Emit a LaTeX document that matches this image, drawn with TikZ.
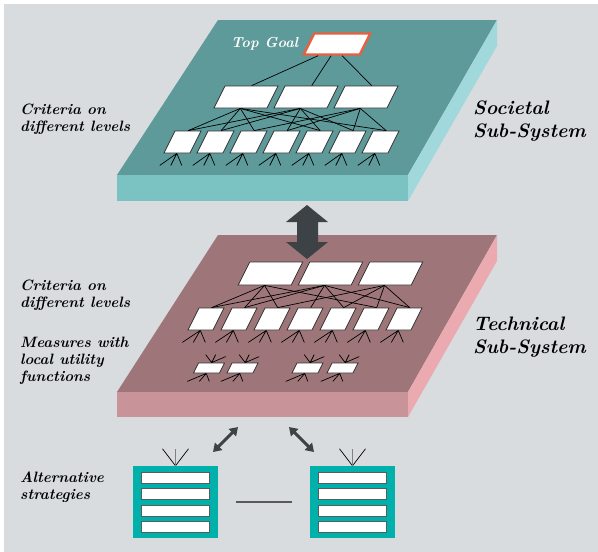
\documentclass[tikz,border=0pt]{standalone}
\usepackage{tikz}
\usetikzlibrary{positioning,calc,arrows.meta}
\newcommand*{\lab}{\fontsize{15}{16.8}\selectfont\bfseries\itshape}
\newcommand*{\sys}{\fontsize{19.5}{23}\selectfont\bfseries\itshape}
\definecolor{bg}{RGB}{216,220,223}
\definecolor{tealtop}{RGB}{94,154,154}
\definecolor{tealfront}{RGB}{123,195,195}
\definecolor{tealside}{RGB}{160,216,220}
\definecolor{mauvetop}{RGB}{158,118,122}
\definecolor{mauvefront}{RGB}{200,148,154}
\definecolor{mauveside}{RGB}{234,170,176}
\definecolor{strat}{RGB}{0,176,170}
\definecolor{goalred}{RGB}{232,96,64}
\definecolor{arrowgray}{RGB}{60,66,70}
\definecolor{edge}{RGB}{50,50,50}

\begin{document}
\begin{tikzpicture}[x=1pt,y=-1pt,
  box/.style={draw=edge,fill=white,line width=0.8pt,inner sep=0pt,xslant=0.5,transform shape},
  wide/.style={box,minimum width=53pt,minimum height=22pt},
  small/.style={box,minimum width=26pt,minimum height=22pt},
  tiny/.style={box,minimum width=26pt,minimum height=10pt},
  link/.style={line width=0.7pt},
  bar/.style={draw=edge!80,fill=white,line width=1pt,minimum width=68pt,minimum height=11pt,inner sep=0pt},
  swap/.style={arrowgray,line width=3pt,{Triangle[width=10pt,length=8pt]}-{Triangle[width=10pt,length=8pt]}},
  txt/.style={anchor=north west,align=left,inner sep=0pt}]
% Page and background
\useasboundingbox (0,0) rectangle (598,552);
\fill [bg] (4,4) rectangle (598,552);
% Societal plate: top face, front face, side face
\coordinate (snw) at (218,20);
\coordinate (sne) at (497,20);
\coordinate (sse) at (408,175);
\coordinate (ssw) at (117,175);
\fill [tealtop] (snw) -- (sne) -- (sse) -- (ssw) -- cycle;
\fill [tealfront] (ssw) -- (sse) -- ++(0,26) -- ($(ssw)+(0,26)$) -- cycle;
\fill [tealside] (sse) -- (sne) -- ++(0,26) -- ($(sse)+(0,26)$) -- cycle;
% Technical plate
\coordinate (tnw) at (218,235);
\coordinate (tne) at (497,235);
\coordinate (tse) at (408,392);
\coordinate (tsw) at (117,392);
\fill [mauvetop] (tnw) -- (tne) -- (tse) -- (tsw) -- cycle;
\fill [mauvefront] (tsw) -- (tse) -- ++(0,25) -- ($(tsw)+(0,25)$) -- cycle;
\fill [mauveside] (tse) -- (tne) -- ++(0,26) -- ($(tse)+(0,25)$) -- cycle;
% Exchange between the two plates
\fill [arrowgray] (307,205) -- (328,222) -- (318,222) -- (318,242) -- (328,242) -- (307,259)
  -- (286,242) -- (297,242) -- (297,222) -- (286,222) -- cycle;

% Societal criteria tree
\node [box,draw=goalred,line width=2.4pt,minimum width=56pt,minimum height=21pt] (goal) at (337,44) {};
\node [anchor=base west,inner sep=0pt,white,font=\fontsize{14.5}{16}\selectfont\bfseries\itshape] (goaltxt) at (231,47) {Top Goal};
\foreach \i in {1,2,3}
  \node [wide] (b\i) at ({246+60*(\i-1)},97) {};
\foreach \i in {1,...,7}
  \node [small] (c\i) at ({182.5+33*(\i-1)},142) {};
\foreach \i/\d in {1/-13,2/0,3/11}
  \draw [link] ($(goal.south)+(\d,0)$) -- (b\i.north);
\foreach \i/\j in {1/1,1/2,1/3,1/5,1/7,2/1,2/2,2/4,2/5,2/6,3/3,3/4,3/6,3/7}
  \draw [link] (b\i.south) -- (c\j.north);
\foreach \i in {1,...,7}
  \draw [link] (c\i.south) -- ++(-17,12) (c\i.south) -- ++(-6,12) (c\i.south) -- ++(5,12);

% Technical criteria tree
\foreach \i in {1,2,3}
  \node [wide,minimum height=23pt] (a\i) at ({270.5+60*(\i-1)},273.5) {};
\foreach \i in {1,...,7}
  \node [small,minimum width=25pt] (d\i) at ({206+33*(\i-1)},319) {};
\foreach \i/\j in {1/1,1/2,1/3,1/6,2/1,2/2,2/4,2/5,2/7,3/3,3/5,3/6,3/7}
  \draw [link] (a\i.south) -- (d\j.north);
\foreach \i in {1,...,7}
  \draw [link] (d\i.south) -- ++(-18,12) (d\i.south) -- ++(-7,12) (d\i.south) -- ++(5,12);
% Measures
\foreach \i/\x in {1/209,2/242.5,3/307.5,4/342.5} {
  \node [tiny] (m\i) at (\x,368) {};
  \draw [link] (m\i.north) -- ++(-6,-8) (m\i.north) -- ++(4,-8) (m\i.north) -- ++(14,-6);
  \draw [link] (m\i.south) -- ++(-19,8) (m\i.south) -- ++(-7,8) (m\i.south) -- ++(3,8);
}

% Alternative strategies
\node [fill=strat,minimum width=85pt,minimum height=72pt,inner sep=0pt] (s1) at (175.5,502) {};
\node [fill=strat,minimum width=85pt,minimum height=72pt,inner sep=0pt] (s2) at (352.5,502) {};
\foreach \s in {s1,s2} {
  \foreach \k in {0,...,3}
    \node [bar] (\s-\k) at ($(\s.north)+(0,{12+16.5*\k})$) {};
  \draw [link] (\s.north) -- ++(-13,-17) (\s.north) -- ++(13,-17);
  \draw [link,gray] (\s.north) -- ++(0,-17);
}
\draw [gray!70!black,line width=1.5pt,shorten >=18pt,shorten <=18pt] (s1.east) -- (s2.west);
\coordinate (l1) at (213,452);
\coordinate (l2) at (238,427);
\coordinate (r1) at (289,427);
\coordinate (r2) at (314,452);
\draw [swap] (l1) -- (l2);
\draw [swap] (r1) -- (r2);

% Labels
\node [txt,font=\lab] (crit1) at (20,104) {Criteria on\\different levels};
\node [txt,font=\lab] (crit2) at (20,280) {Criteria on\\different levels};
\node [txt,font=\lab] (meas) at (20,337) {Measures with\\local utility\\functions};
\node [txt,font=\lab] (alt) at (20,472) {Alternative\\strategies};
\node [txt,font=\sys] (soc) at (473,101) {Societal\\Sub-System};
\node [txt,font=\sys] (tech) at (473,317) {Technical\\Sub-System};
\end{tikzpicture}
\end{document}
